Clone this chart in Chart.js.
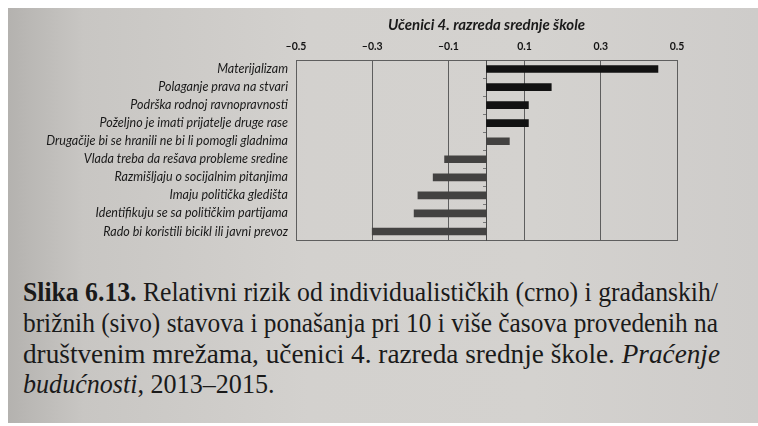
<!DOCTYPE html>
<html>
<head>
<meta charset="utf-8">
<script src="https://cdn.jsdelivr.net/npm/chart.js@4"></script>
<style>
  html, body { margin: 0; padding: 0; width: 758px; height: 426px; overflow: hidden; background: #ffffff; }
  #page { position: absolute; left: 8px; top: 8px; width: 750px; height: 415px;
    background: linear-gradient(to right, #b4b2af 0%, #c8c6c3 10%, #d3d1ce 40%, #d4d2cf 70%, #cecccA 100%); }
  #chartBox { position: absolute; left: 0; top: 0; width: 758px; height: 256px; }
  .cap { position: absolute; left: 23px; white-space: nowrap; font-family: "Liberation Serif", "DejaVu Serif", serif;
    font-size: 28px; line-height: 32px; color: #1a1a1a; transform-origin: 0 50%; }
  .cap b { font-weight: 600; }
</style>
</head>
<body>
<div id="page"></div>
<div id="chartBox"><canvas id="c" width="758" height="256"></canvas></div>
<div class="cap" id="l1" style="top:276px"><b>Slika 6.13.</b> Relativni rizik od individualističkih (crno) i građanskih/</div>
<div class="cap" id="l2" style="top:307px">brižnih (sivo) stavova i ponašanja pri 10 i više časova provedenih na</div>
<div class="cap" id="l3" style="top:338px">društvenim mrežama, učenici 4. razreda srednje škole. <i>Praćenje</i></div>
<div class="cap" id="l4" style="top:368px"><i>budućnosti</i>, 2013–2015.</div>
<script>
const categories = [
  "Materijalizam",
  "Polaganje prava na stvari",
  "Podrška rodnoj ravnopravnosti",
  "Poželjno je imati prijatelje druge rase",
  "Drugačije bi se hranili ne bi li pomogli gladnima",
  "Vlada treba da rešava probleme sredine",
  "Razmišljaju o socijalnim pitanjima",
  "Imaju politička gledišta",
  "Identifikuju se sa političkim partijama",
  "Rado bi koristili bicikl ili javni prevoz"
];
const values = [0.45, 0.17, 0.11, 0.11, 0.06, -0.11, -0.14, -0.18, -0.19, -0.30];
const groups = ["crno", "crno", "crno", "crno", "sivo", "sivo", "sivo", "sivo", "sivo", "sivo"];
const tickValues = [-0.5, -0.3, -0.1, 0.1, 0.3, 0.5];
const tickLabels = ["–0.5", "–0.3", "–0.1", "0.1", "0.3", "0.5"];
const chartTitle = "Učenici 4. razreda srednje škole";

const groupColors = { crno: "#121212", sivo: "#434241" };
const lineColor = "#5e5e5e";

new Chart(document.getElementById("c"), {
  type: "bar",
  data: {
    labels: categories,
    datasets: [{
      data: values,
      backgroundColor: groups.map(g => groupColors[g]),
      borderWidth: 0,
      barThickness: 7
    }]
  },
  options: {
    indexAxis: "y",
    responsive: false,
    animation: false,
    layout: { padding: { left: 0, right: 81, top: 0, bottom: 5 } },
    plugins: {
      legend: { display: false },
      tooltip: { enabled: false },
      title: {
        display: true, text: chartTitle, fullSize: false,
        color: "#1a1a1a",
        font: { family: "Lato, 'Open Sans', sans-serif", size: 15, style: "italic", lineHeight: 1.2 },
        padding: { top: 16, bottom: 3 }
      }
    },
    scales: {
      x: {
        type: "linear", position: "top", min: -0.5, max: 0.5,
        afterBuildTicks: s => { s.ticks = tickValues.map(v => ({ value: v })); },
        afterFit: s => { s.height = 23; },
        ticks: {
          callback: (v, i) => tickLabels[i],
          color: "#141414", padding: 7, maxRotation: 0,
          font: { family: "Lato, sans-serif", size: 10.5, weight: "bold" }
        },
        grid: { color: lineColor, lineWidth: 1, drawTicks: false },
        border: { display: true, color: lineColor, width: 1 }
      },
      x2: {
        type: "linear", position: "bottom", axis: "x", min: -0.5, max: 0.5,
        afterFit: s => { s.height = 0; },
        ticks: { display: false },
        grid: { display: false, drawTicks: false },
        border: { display: true, color: lineColor, width: 1 }
      },
      y: {
        type: "category", position: "left",
        afterFit: s => { s.width = 296; },
        ticks: {
          color: "#1a1a1a", padding: 8, autoSkip: false,
          font: { family: "Lato, 'Open Sans', sans-serif", size: 12.5, style: "italic" }
        },
        grid: { display: false, drawTicks: false },
        border: { display: true, color: lineColor, width: 1 }
      },
      yZero: {
        type: "category", axis: "y", position: { x: 0 },
        afterFit: s => { s.width = 0; },
        ticks: { display: false },
        grid: { drawOnChartArea: false, drawTicks: true, tickLength: 3, color: "#777" },
        border: { display: true, color: "#4a4a4a", width: 1 }
      }
    }
  }
});

function fitLine(id, target) {
  const el = document.getElementById(id);
  const w = el.getBoundingClientRect().width;
  const s = target / w;
  el.style.transform = "scaleX(" + s + ")";
  return s;
}
const s1 = fitLine("l1", 695);
const s2 = fitLine("l2", 695);
const s3 = fitLine("l3", 697);
document.getElementById("l4").style.transform = "scaleX(" + ((s1 + s2 + s3) / 3) + ")";
</script>
</body>
</html>
